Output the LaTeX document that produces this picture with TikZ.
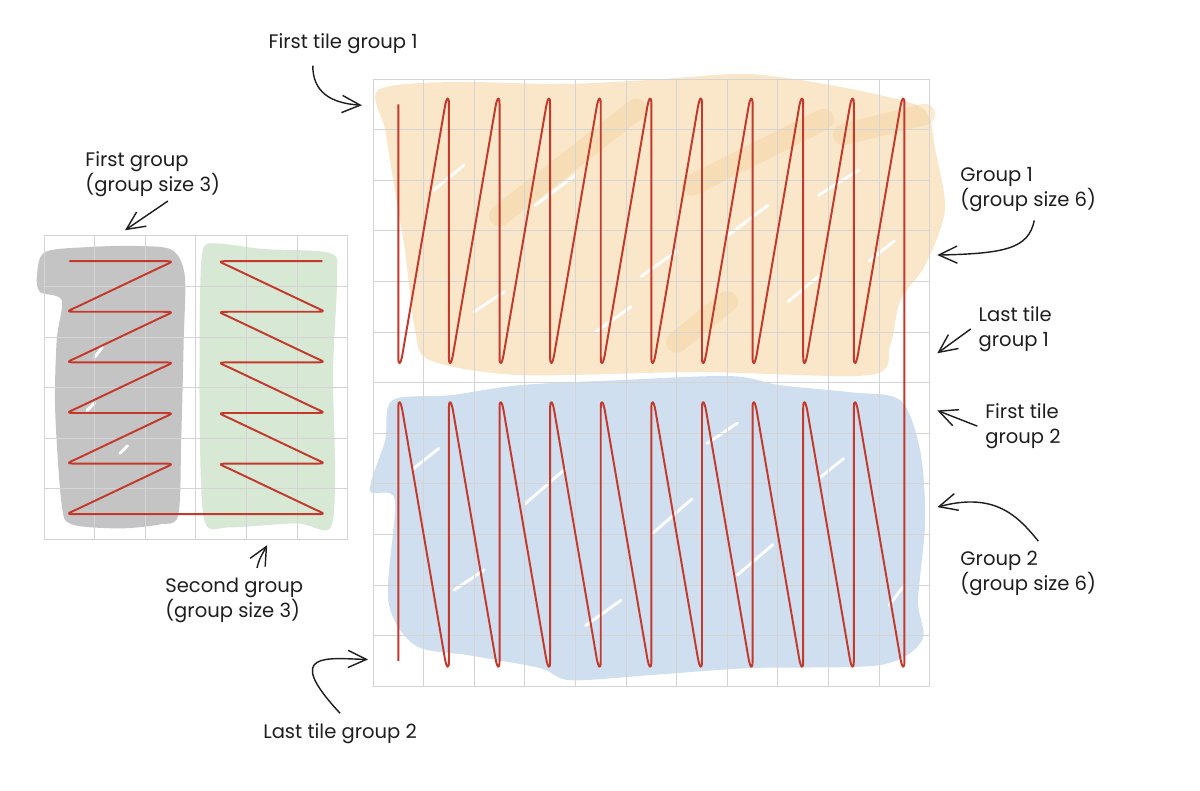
\documentclass[tikz,border=0pt]{standalone}
\usepackage{fontspec}
\setmainfont{Poppins}
\usetikzlibrary{arrows.meta}
\definecolor{cRed}{HTML}{C33A2C}
\definecolor{cInk}{HTML}{1E1E1E}
\definecolor{cGray}{HTML}{C4C4C4}
\definecolor{cGreen}{HTML}{D7E8D5}
\definecolor{cOrange}{HTML}{FAE6C8}
\definecolor{cOrangeD}{HTML}{F3D49E}
\definecolor{cBlue}{HTML}{CFDFEF}
\tikzset{gridln/.style={draw=black!17, line width=0.5pt},
  zz/.style={draw=cRed, line width=1.1pt, line join=round, looseness=5},
  arr/.style={-{Straight Barb[length=3.6mm,width=3.4mm]}, line width=0.8pt, draw=cInk},
  lbl/.style={font=\fontsize{11pt}{14pt}\selectfont, text=cInk, align=left, inner sep=2pt},
  streak/.style={draw=#1, line width=12pt, line cap=round, opacity=0.45},
  gap/.style={draw=white, line width=1.6pt, line cap=round}}

\begin{document}
\begin{tikzpicture}[x=1cm,y=1cm]
\useasboundingbox (-7.37,-2.06) rectangle (16.34,13.56);
% ---- scribbled fills ----
\fill[cGray] plot[smooth cycle] coordinates {(-6.64,8.12) (-6.48,8.58) (-5.59,8.68) (-4.66,8.70) (-3.97,8.62) (-3.72,8.12) (-3.74,6.84) (-3.79,4.86) (-3.85,3.38) (-4.21,3.20) (-5.0,3.12) (-5.95,3.20) (-6.15,3.58) (-6.28,5.45) (-6.25,6.84) (-6.15,7.63) (-6.58,7.79)};
\fill[cGreen] plot[smooth cycle] coordinates {(-3.36,8.62) (-3.08,8.75) (-2.17,8.64) (-0.85,8.56) (-0.71,8.12) (-0.79,6.19) (-0.75,4.21) (-0.85,3.12) (-1.50,3.22) (-2.83,3.14) (-3.32,3.24) (-3.42,4.86) (-3.42,7.49)};
\fill[cOrange] plot[smooth cycle] coordinates {(0.10,11.78) (1.52,11.94) (3.70,11.90) (5.47,11.98) (7.25,12.10) (8.44,11.98) (10.02,11.68) (10.91,11.38) (11.11,10.59) (11.30,9.41) (10.91,8.32) (10.42,7.63) (10.22,6.74) (9.82,6.15) (6.46,6.21) (2.91,6.15) (1.13,6.44) (0.83,7.04) (0.63,8.62) (0.43,9.80) (0.24,10.99)};
\fill[cBlue] plot[smooth cycle] coordinates {(0.38,5.65) (1.52,5.75) (2.91,5.95) (4.88,6.05) (7.06,6.13) (8.04,5.95) (9.43,5.81) (10.42,5.65) (10.81,4.66) (10.91,3.28) (10.77,1.70) (10.85,0.91) (10.02,0.42) (7.45,0.36) (5.47,0.22) (3.89,0.12) (3.30,0.36) (1.92,0.61) (0.83,0.81) (0.30,1.70) (0.43,3.68) (-0.06,3.87) (0.24,4.86)};
\draw[streak=cOrangeD] (2.5,9.3) -- (5.2,11.4);
\draw[streak=cOrangeD] (6.3,9.9) -- (8.9,11.2);
\draw[streak=cOrangeD] (9.3,10.9) -- (10.9,11.3);
\draw[streak=cOrangeD] (6.0,6.8) -- (7.0,7.6);
\foreach \xa/\ya/\xb/\yb in {1.2/9.8/1.8/10.3, 3.2/9.5/4.0/10.1, 5.3/8.1/6.0/8.6, 7.0/8.9/7.8/9.5, 8.8/9.7/9.6/10.2, 2.0/7.4/2.6/7.8, 4.4/7.0/5.1/7.5, 8.2/7.6/8.8/8.1, 9.8/8.4/10.3/8.8,
  0.8/4.3/1.3/4.7, 3.0/3.6/3.8/4.3, 5.5/3.0/6.3/3.7, 7.2/2.2/7.9/2.8, 6.6/4.8/7.2/5.2, 4.2/1.2/4.9/1.7, 8.8/4.1/9.3/4.5, 10.2/1.6/10.5/2.0, 1.6/1.9/2.2/2.3,
  -5.5/6.5/-5.35/6.7, -5.65/5.45/-5.5/5.6, -5.0/4.6/-4.85/4.75} \draw[gap] (\xa,\ya) -- (\xb,\yb);
% ---- grids ----
\draw[gridln, shift={(-6.5,2.9)}] (0,0) grid (6,6);
\draw[gridln] (0,0) grid (11,12);
% ---- traversal paths ----
\draw[zz] (-6,8.4) \foreach \r in {8.4,7.4,6.4,5.4,4.4} { -- (-4.15,\r) to[out=0,in=25] (-4.2,\r-0.12) -- (-5.8,\r-0.88) to[out=205,in=180] (-5.85,\r-1) } -- (-1.15,3.4)
  \foreach \r in {3.4,4.4,5.4,6.4,7.4} { to[out=0,in=-25] (-1.2,\r+0.12) -- (-2.8,\r+0.88) to[out=155,in=180] (-2.85,\r+1) -- (-1.15,\r+1) } -- (-1,8.4);
\draw[zz] (0.5,11.5) \foreach \i in {0,...,9} { -- (\i+0.5,6.5) to[out=-90,in=-100] (\i+0.58,6.55) -- (\i+1.42,11.45) to[out=80,in=90] (\i+1.5,11.5) } -- (10.5,0.5)
  \foreach \i in {9,...,0} { to[out=-90,in=-80] (\i+1.42,0.55) -- (\i+0.58,5.45) to[out=100,in=90] (\i+0.5,5.5) -- (\i+0.5,0.5) };
% ---- labels ----
\node[lbl] (ftg1) at (-0.59,12.69) {First tile group 1};
\node[lbl, anchor=west] (fg) at (-5.76,10.11) {First group\\(group size 3)};
\node[lbl, anchor=west] (sg) at (-4.18,1.70) {Second group\\(group size 3)};
\node[lbl] (ltg2) at (-0.65,-0.93) {Last tile group 2};
\node[lbl, anchor=west] (g1) at (11.53,9.82) {Group 1\\(group size 6)};
\node[lbl, anchor=west] (ltg1) at (11.89,7.06) {Last tile\\group 1};
\node[lbl, anchor=west] (ftg2) at (12.02,5.14) {First tile\\group 2};
\node[lbl, anchor=west] (g2) at (11.53,2.23) {Group 2\\(group size 6)};
\coordinate (tFtg1) at (-0.22,11.48);
\coordinate (tFg) at (-4.90,9.01);
\coordinate (tSg) at (-2.09,2.79);
\coordinate (tLtg2) at (-0.10,0.53);
\coordinate (tG1) at (11.15,8.52);
\coordinate (tLtg1) at (11.15,6.58);
\coordinate (tFtg2) at (11.15,5.45);
\coordinate (tG2) at (11.15,3.54);
% ---- arrows ----
\draw[arr] ([xshift=-0.6cm,yshift=-0.15cm]ftg1.south) .. controls (-1.19,11.75) and (-0.85,11.52) .. (tFtg1);
\draw[arr] ([xshift=0.3cm]fg.south) -- (tFg);
\draw[arr] ([xshift=0.45cm,yshift=0.12cm]sg.north) .. controls (-2.25,2.5) .. (tSg);
\draw[arr] ([yshift=0.12cm]ltg2.north) .. controls (-1.8,0.7) and (-0.9,0.55) .. (tLtg2);
\draw[arr] ([xshift=0.12cm,yshift=-0.1cm]g1.south) .. controls (12.95,8.65) and (12.5,8.55) .. (tG1);
\draw[arr] ([xshift=-0.08cm]ltg1.west) -- (tLtg1);
\draw[arr] ([xshift=-0.08cm]ftg2.west) -- (tFtg2);
\draw[arr] ([xshift=0.2cm,yshift=0.12cm]g2.north) .. controls (12.75,3.35) and (12.3,3.85) .. (tG2);
\end{tikzpicture}
\end{document}
